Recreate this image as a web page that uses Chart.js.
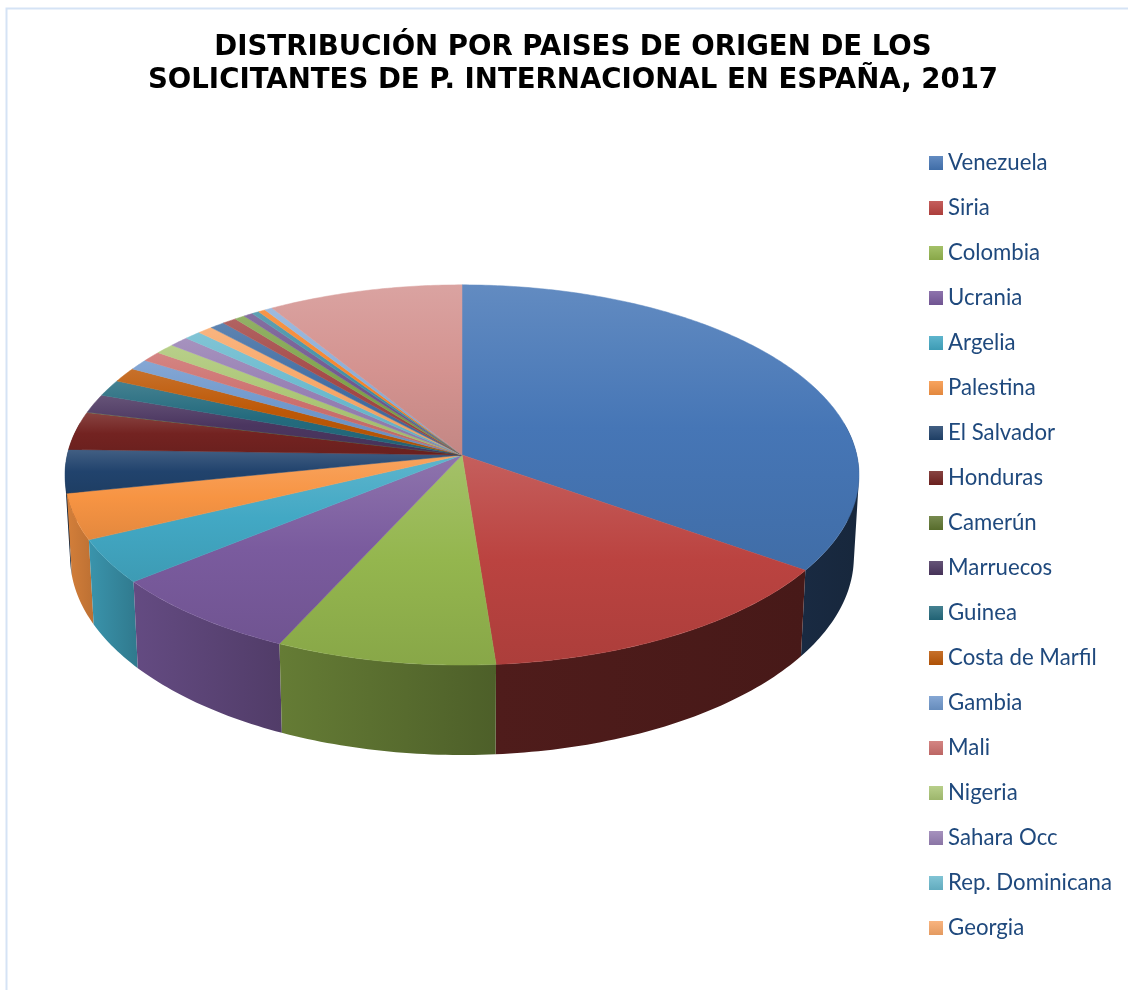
<!DOCTYPE html>
<html lang="es">
<head>
<meta charset="utf-8">
<title>Solicitantes de P. Internacional en España, 2017</title>
<style>html,body{margin:0;padding:0;background:#fff}canvas{display:block}</style>
<script src="https://cdn.jsdelivr.net/npm/chart.js@4"></script>
</head>
<body>
<canvas id="c" width="1128" height="990"></canvas>
<script>
const titleLines = ["DISTRIBUCIÓN POR PAISES DE ORIGEN DE LOS", "SOLICITANTES DE P. INTERNACIONAL EN ESPAÑA, 2017"];
// Slices past "Georgia" have no legend entry in the reference, so their names are blank.
const categories = ["Venezuela","Siria","Colombia","Ucrania","Argelia","Palestina","El Salvador","Honduras","Camerún","Marruecos","Guinea","Costa de Marfil","Gambia","Mali","Nigeria","Sahara Occ","Rep. Dominicana","Georgia","","","","","","","",""];
const shares = [34.8,14.0,8.1,7.3,3.75,3.9,3.67,3.25,0.02,1.6,1.4,1.25,0.92,0.89,0.89,0.89,0.75,0.69,0.67,0.64,0.47,0.42,0.33,0.32,0.35,8.79];
const colors = ["#4676b6","#bb4340","#94b64e","#7a5b9e","#42a8c4","#f79443","#21436d","#732321","#5f7530","#4b3660","#246b7e","#bd5806","#6f98cc","#cc6f6d","#abc675","#967fb3","#6bbace","#f8a768","#426ea3","#a34846","#7fa34b","#715790","#418fa5","#f6832a","#8caed8","#d49390"];
// Wall shading per slice: [factor at the left edge, factor at the right edge]
const wallShade = [[.36,.33],[.42,.38],[.68,.52],[.82,.66],[.88,.72],[.86,.76],[.55,.5],[.6,.5],[.6,.5],[.6,.5]];

const TOP = {x0:462, y0:455, A:188, B:394.8, k:.105};
const BOT = {x0:462, y0:536, A:196, B:389.7, k:.105};
function proj(P,a){const w=1-P.k*Math.sin(a);return [P.x0+P.B*Math.cos(a)/w, P.y0+P.A*Math.sin(a)/w];}
function rgb(h){return [1,3,5].map(i=>parseInt(h.substr(i,2),16));}
function css(c){return `rgb(${c.map(v=>Math.round(Math.min(255,v))).join(',')})`;}
function mul(h,f){return css(rgb(h).map(v=>v*f));}
function tint(h,t){return css(rgb(h).map(v=>v+(255-v)*t));}
function area(p){let s=0;p.forEach((q,i)=>{const r=p[(i+1)%p.length];s+=q[0]*r[1]-r[0]*q[1];});return s;}

const pie3d = {
  id:'pie3d',
  afterLayout(chart){
    const l=chart.legend;
    const pad=l.options.labels.padding;
    l.left=929-pad; l.right=1128; l.width=l.right-l.left;
    l.top=163-pad-11; l.bottom=990; l.height=l.bottom-l.top;
  },
  beforeDatasetsDraw(chart){
    const ctx=chart.ctx, arcs=chart.getDatasetMeta(0).data;
    const lim0=-10*Math.PI/180, lim1=190*Math.PI/180, walls=[];
    arcs.forEach((el,i)=>{
      const s=Math.max(el.startAngle,lim0), e=Math.min(el.endAngle,lim1);
      if(e<=s) return;
      const n=Math.max(2,Math.ceil((e-s)*60)), t=[],b=[];
      for(let j=0;j<=n;j++){const a=s+(e-s)*j/n;t.push(proj(TOP,a));b.push(proj(BOT,a));}
      const xs=t.concat(b).map(p=>p[0]);
      const g=ctx.createLinearGradient(Math.min(...xs),0,Math.max(...xs),0);
      const sh=wallShade[i]||[.55,.5];
      g.addColorStop(0,mul(colors[i],sh[0]));g.addColorStop(1,mul(colors[i],sh[1]));
      const path=new Path2D();
      for(let j=0;j<n;j++){
        const q=[t[j],t[j+1],b[j+1],b[j]];
        if(area(q)<0) q.reverse();
        q.forEach((p,m)=>m?path.lineTo(p[0],p[1]):path.moveTo(p[0],p[1]));
        path.closePath();
      }
      walls.push({m:Math.abs((s+e)/2-Math.PI/2),g,path});
    });
    walls.sort((q,r)=>r.m-q.m).forEach(q=>{ctx.fillStyle=q.g;ctx.fill(q.path,'nonzero');});
    arcs.forEach((el,i)=>{
      const s=el.startAngle,e=el.endAngle,n=Math.max(2,Math.ceil((e-s)*90)),pts=[[TOP.x0,TOP.y0]];
      for(let j=0;j<=n;j++)pts.push(proj(TOP,s+(e-s)*j/n));
      const ys=pts.map(p=>p[1]);
      const g=ctx.createLinearGradient(0,Math.min(...ys),0,Math.max(...ys));
      g.addColorStop(0,tint(colors[i],.15));
      g.addColorStop(.5,colors[i]);
      g.addColorStop(1,mul(colors[i],.92));
      ctx.beginPath();
      pts.forEach((p,j)=>j?ctx.lineTo(p[0],p[1]):ctx.moveTo(p[0],p[1]));
      ctx.closePath();ctx.fillStyle=g;ctx.fill();
      ctx.strokeStyle=g;ctx.lineWidth=.5;ctx.stroke();
    });
    return false;
  },
  afterDraw(chart){
    const ctx=chart.ctx,l=chart.legend;
    l.legendHitBoxes.forEach((h,i)=>{
      const idx=l.legendItems[i].index, y=Math.round(h.top+h.height/2-7);
      const g=ctx.createLinearGradient(0,y,0,y+14);
      g.addColorStop(0,tint(colors[idx],.15));g.addColorStop(1,mul(colors[idx],.92));
      ctx.fillStyle=g;ctx.fillRect(h.left,y,14,14);
    });
    ctx.strokeStyle='#d5e3f5';ctx.lineWidth=2;
    ctx.beginPath();ctx.moveTo(6.5,991);ctx.lineTo(6.5,8.5);ctx.lineTo(1129,8.5);ctx.stroke();
  }
};

new Chart(document.getElementById('c'),{
  type:'pie',
  plugins:[pie3d],
  data:{labels:categories,datasets:[{data:shares,backgroundColor:colors,borderWidth:0}]},
  options:{
    responsive:false,animation:false,
    layout:{padding:{left:18}},
    plugins:{
      tooltip:{enabled:false},
      title:{display:true,text:titleLines,color:'#000',align:'center',
        font:{family:'"DejaVu Sans"',size:27.6,weight:'bold',lineHeight:'32.5px'},padding:{top:32,bottom:10}},
      legend:{position:'right',align:'start',
        labels:{boxWidth:8,boxHeight:14,padding:22.8,color:'#1f497d',
          font:{family:'Lato',size:22.2,lineHeight:1.2},
          filter:item=>item.text!==''}}
    }
  }
});
</script>
</body>
</html>
